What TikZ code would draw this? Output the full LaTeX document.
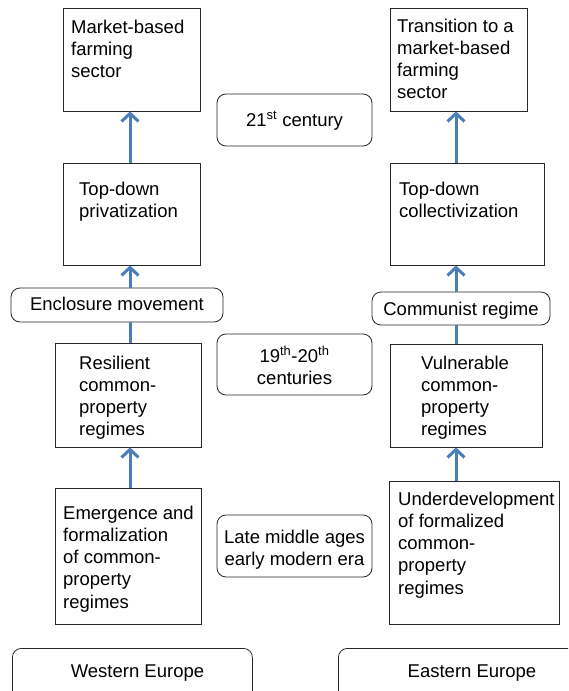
\documentclass[tikz,border=0pt]{standalone}
\usepackage{fontspec}
\setmainfont{Liberation Sans}
\usetikzlibrary{arrows.meta,fit}
\definecolor{arrowblue}{RGB}{74,126,187}
\definecolor{edgegray}{RGB}{40,40,40}
\newcommand\leftlines[1]{\parbox[t]{200pt}{\raggedright #1}}
\newcommand\midlines[1]{\parbox[t]{160pt}{\centering #1}}
\begin{document}
\begin{tikzpicture}[x=1pt,y=-1pt,
  box/.style={draw=edgegray, line width=0.8pt, inner sep=0pt},
  rbox/.style={box, rounded corners=9pt},
  txt/.style={inner sep=0pt, font=\fontsize{18.5}{22.3}\selectfont},
  arr/.style={draw=arrowblue, line width=3pt, -{Straight Barb[length=8pt,width=17pt,line width=3pt]}},
  conn/.style={draw=arrowblue, line width=3pt}]
\useasboundingbox (0,0) rectangle (568,691);
\begin{scope}
\clip (0,0) rectangle (568,691);

% left column (Western Europe)
\node[box, fit={(63,8) (200,111)}] (b1) {};
\node[box, fit={(63,163) (200,265)}] (b2) {};
\node[rbox, fit={(11,288) (223,322)}] (enc) {};
\node[box, fit={(55,343) (201,447)}] (b3) {};
\node[box, fit={(55,488) (201,624)}] (b4) {};
\node[rbox, minimum width=240pt, minimum height=60pt, anchor=north west] (west) at (12,648) {};

\node[txt, anchor=base] (enct) at (117,310) {Enclosure movement};
\node[txt, anchor=base] (westt) at (137.5,677) {Western Europe};
\node[txt, anchor=base west] (t1) at (71,33) {\leftlines{Market-based\\farming\\sector}};
\node[txt, anchor=base west] (t2) at (79,195) {\leftlines{Top-down\\privatization}};
\node[txt, anchor=base west] (t3) at (79,369) {\leftlines{Resilient\\common-\\property\\regimes}};
\node[txt, anchor=base west] (t4) at (63,519) {\leftlines{Emergence and\\formalization\\of common-\\property\\regimes}};

% right column (Eastern Europe)
\node[box, fit={(390,8) (527,111)}] (e1) {};
\node[box, fit={(390,163) (544,265)}] (e2) {};
\node[rbox, fit={(372,292) (550,325)}] (com) {};
\node[box, fit={(390,344) (542,447)}] (e3) {};
\node[box, fit={(389,481) (559,624)}] (e4) {};
\node[rbox, minimum width=300pt, minimum height=60pt, anchor=north west] (east) at (338,648) {};

\node[txt, anchor=base] (comt) at (461,315) {Communist regime};
\node[txt, anchor=base] (eastt) at (472,677) {Eastern Europe};
\node[txt, anchor=base west] (u1) at (397,32) {\leftlines{Transition to a\\market-based\\farming\\sector}};
\node[txt, anchor=base west] (u2) at (399,195) {\leftlines{Top-down\\collectivization}};
\node[txt, anchor=base west] (u3) at (421,369) {\leftlines{Vulnerable\\common-\\property\\regimes}};
\node[txt, anchor=base west] (u4) at (398,505) {\leftlines{Underdevelopment\\of formalized\\common-\\property\\regimes}};

% middle (periods)
\node[rbox, fit={(217,94) (372,146)}] (m1) {};
\node[rbox, fit={(217,334) (372,395)}] (m2) {};
\node[rbox, fit={(217,515) (372,577)}] (m3) {};
\node[txt, anchor=base] (m1t) at (294.5,126) {21\textsuperscript{st} century};
\node[txt, anchor=base] (m2t) at (294.5,362) {\midlines{19\textsuperscript{th}-20\textsuperscript{th}\\centuries}};
\node[txt, anchor=base] (m3t) at (294.5,543) {\midlines{Late middle ages\\early modern era}};

% arrows
\coordinate (ax) at (130,0);
\coordinate (ex) at (456,0);
\draw[arr] (b2.north -| ax) -- (b1.south -| ax);
\draw[arr] (enc.north -| ax) -- (b2.south -| ax);
\draw[conn] (b3.north -| ax) -- (enc.south -| ax);
\draw[arr] (b4.north -| ax) -- (b3.south -| ax);

\draw[arr] (e2.north -| ex) -- (e1.south -| ex);
\draw[arr] (com.north -| ex) -- (e2.south -| ex);
\draw[conn] (e3.north -| ex) -- (com.south -| ex);
\draw[arr] (e4.north -| ex) -- (e3.south -| ex);
\end{scope}
\end{tikzpicture}
\end{document}
